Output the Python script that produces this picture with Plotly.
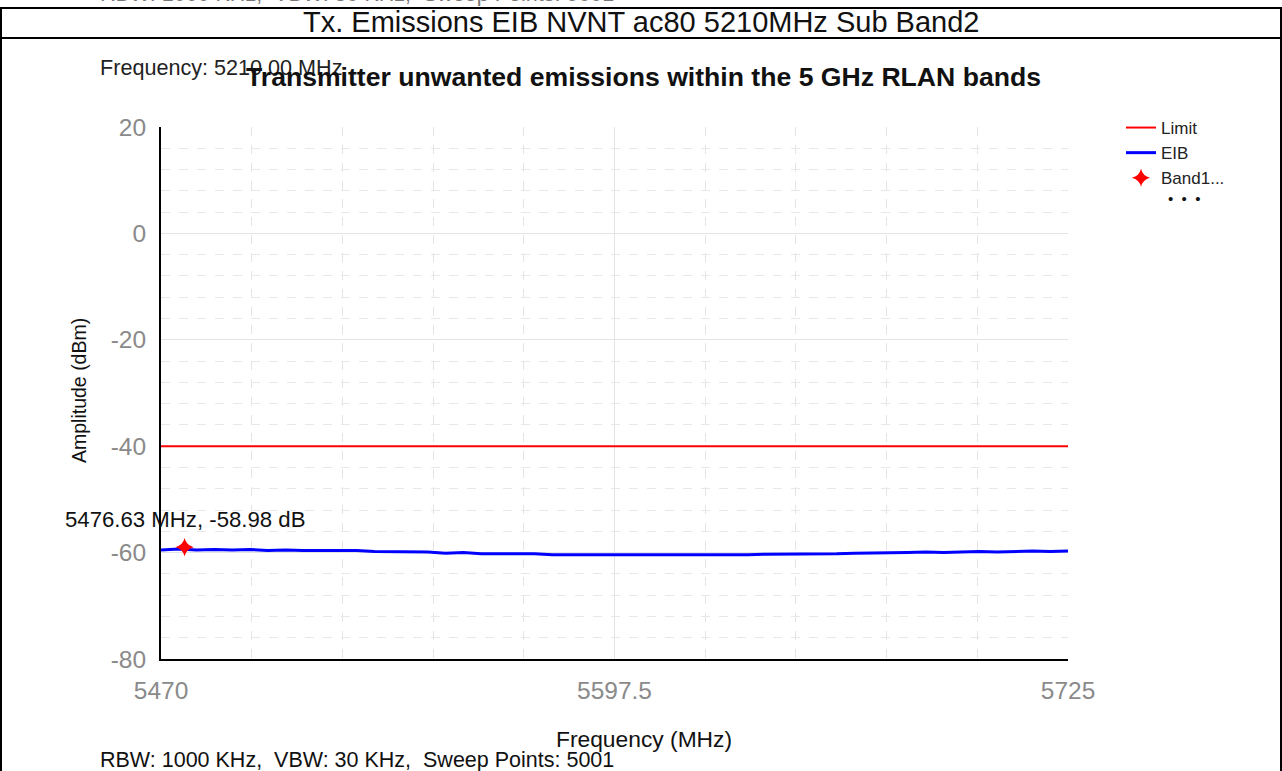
import plotly.graph_objects as go

W, H = 1282, 771

# ---- data ----
limit_freq = [5470, 5725]
limit_vals = [-40, -40]

eib_freq = [5470, 5475, 5480, 5485, 5490, 5495, 5500, 5505, 5510, 5515, 5520, 5525,
            5530, 5535, 5540, 5545, 5550, 5555, 5560, 5565, 5570, 5575, 5580, 5585,
            5590, 5595, 5600, 5605, 5610, 5615, 5620, 5625, 5630, 5635, 5640, 5645,
            5650, 5655, 5660, 5665, 5670, 5675, 5680, 5685, 5690, 5695, 5700, 5705,
            5710, 5715, 5720, 5725]
eib_vals = [-59.5, -59.3, -59.5, -59.4, -59.5, -59.4, -59.6, -59.5, -59.6, -59.6, -59.7, -59.6,
            -59.8, -59.8, -59.9, -59.9, -60.1, -60.0, -60.2, -60.2, -60.3, -60.2, -60.4, -60.4,
            -60.4, -60.5, -60.5, -60.4, -60.5, -60.5, -60.4, -60.5, -60.4, -60.4, -60.3, -60.3,
            -60.2, -60.3, -60.2, -60.1, -60.1, -60.0, -60.0, -59.9, -60.0, -59.9, -59.8, -59.9,
            -59.8, -59.7, -59.8, -59.7]

marker_freq = [5476.63]
marker_vals = [-58.98]

x_tick_vals = [5470, 5597.5, 5725]
x_tick_text = ["5470", "5597.5", "5725"]
y_tick_vals = [20, 0, -20, -40, -60, -80]
y_tick_text = ["20", "0", "-20", "-40", "-60", "-80"]

outer_title = "Tx. Emissions EIB NVNT ac80 5210MHz Sub Band2"
chart_title = "Transmitter unwanted emissions within the 5 GHz RLAN bands"
freq_note = "Frequency: 5210.00 MHz"
bw_note = "RBW: 1000 KHz,  VBW: 30 KHz,  Sweep Points: 5001"
marker_label = "5476.63 MHz, -58.98 dB"

FONT = "Arial, Liberation Sans, sans-serif"


def px(x):
    return x / W


def py(y):
    return 1 - y / H


fig = go.Figure()
fig.add_trace(go.Scatter(x=limit_freq, y=limit_vals, mode="lines", name="Limit",
                         line=dict(color="#ff0000", width=2)))
fig.add_trace(go.Scatter(x=eib_freq, y=eib_vals, mode="lines", name="EIB",
                         line=dict(color="#0000ff", width=3)))
fig.add_trace(go.Scatter(x=marker_freq, y=marker_vals, mode="markers", name="Band1...",
                         marker=dict(color="#ff0000", symbol="star-diamond", size=13)))

fig.update_layout(
    template="none",
    width=W, height=H,
    margin=dict(l=0, r=0, t=0, b=0, pad=0, autoexpand=False),
    paper_bgcolor="white", plot_bgcolor="white",
    font=dict(family=FONT, color="#222222"),
    showlegend=True,
    legend=dict(x=px(1121), y=py(110), xanchor="left", yanchor="top",
                font=dict(size=17, color="#222222"), bgcolor="rgba(0,0,0,0)",
                tracegroupgap=0, itemwidth=30),
    xaxis=dict(domain=[px(161), px(1068)], range=[5470, 5725], automargin=False,
               tickmode="array", tickvals=x_tick_vals, ticktext=x_tick_text,
               tickfont=dict(size=24.5, color="#8a8a8a", family=FONT),
               ticks="", ticklabelstandoff=9,
               showline=True, linecolor="#000000", linewidth=2,
               showgrid=True, gridcolor="#e4e4e4", gridwidth=1,
               minor=dict(tickmode="linear", tick0=5470, dtick=25.5, showgrid=True,
                          gridcolor="#e4e4e4", griddash="dash", gridwidth=1),
               zeroline=False, fixedrange=True),
    yaxis=dict(domain=[py(659), py(127)], range=[-80, 20], automargin=False,
               tickmode="array", tickvals=y_tick_vals, ticktext=y_tick_text,
               tickfont=dict(size=24.5, color="#8a8a8a", family=FONT),
               ticks="", ticklabelstandoff=8,
               showline=True, linecolor="#000000", linewidth=2,
               showgrid=True, gridcolor="#e4e4e4", gridwidth=1,
               minor=dict(tickmode="linear", tick0=-80, dtick=4, showgrid=True,
                          gridcolor="#e8e8e8", griddash="dash", gridwidth=1),
               zeroline=False, fixedrange=True),
)

# frame lines (table around chart)
frame = dict(type="line", xref="paper", yref="paper", line=dict(color="#000000", width=2))
fig.add_shape(**frame, x0=0, x1=1, y0=py(8), y1=py(8))
fig.add_shape(**frame, x0=0, x1=1, y0=py(38), y1=py(38))
fig.add_shape(**frame, x0=px(1), x1=px(1), y0=py(8), y1=0)
fig.add_shape(**frame, x0=px(1281), x1=px(1281), y0=py(8), y1=0)

ann = []
ann.append(dict(text=bw_note, x=px(98), y=py(8), xanchor="left", yanchor="bottom",
                font=dict(size=21.5, color="#777777")))
ann.append(dict(text=outer_title, x=0.5, y=py(22), xanchor="center", yanchor="middle",
                font=dict(size=29, color="#111111")))
ann.append(dict(text=freq_note, x=px(98), y=py(67), xanchor="left", yanchor="middle",
                font=dict(size=21.6, color="#222222")))
ann.append(dict(text="<b>" + chart_title + "</b>", x=px(644), y=py(77), xanchor="center",
                yanchor="middle", font=dict(size=26.6, color="#111111")))
ann.append(dict(text=marker_label, x=px(63), y=py(519), xanchor="left", yanchor="middle",
                font=dict(size=22.2, color="#111111")))
ann.append(dict(text="Amplitude (dBm)", x=px(79), y=py(391), xanchor="center",
                yanchor="middle", textangle=-90, font=dict(size=19.5, color="#111111")))
ann.append(dict(text="Frequency (MHz)", x=px(644), y=py(739), xanchor="center",
                yanchor="middle", font=dict(size=22.8, color="#111111")))
ann.append(dict(text=bw_note, x=px(98), y=py(760), xanchor="left", yanchor="middle",
                font=dict(size=21.5, color="#111111")))
ann.append(dict(text="•  •  •", x=px(1166), y=py(199), xanchor="left", yanchor="middle",
                font=dict(size=15, color="#111111")))
for a in ann:
    a.update(xref="paper", yref="paper", showarrow=False)
fig.update_layout(annotations=ann)

fig.write_html("out.html", config={"displayModeBar": False},
               post_script="document.body.style.margin='0';")
